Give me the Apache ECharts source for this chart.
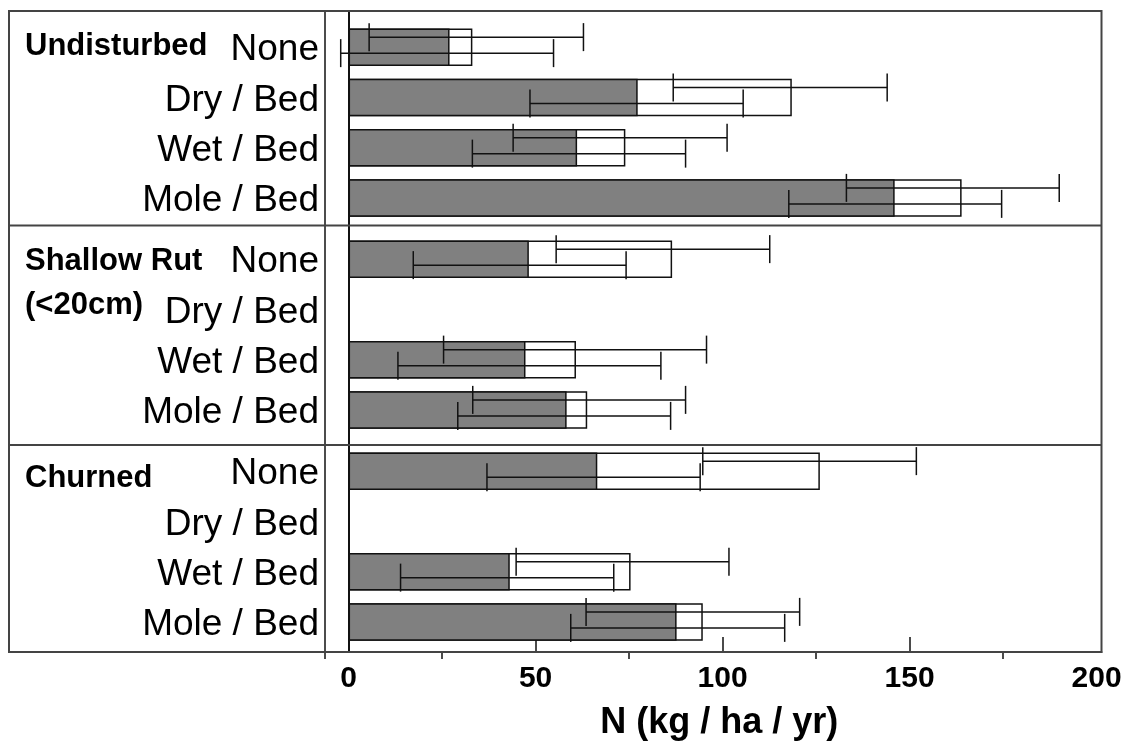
<!DOCTYPE html>
<html>
<head>
<meta charset="utf-8">
<script src="https://cdn.jsdelivr.net/npm/echarts@6/dist/echarts.min.js"></script>
<style>
  html, body { margin: 0; padding: 0; background: #fff; }
  #chart { width: 1128px; height: 746px; }
</style>
</head>
<body>
<div id="chart"></div>
<script>
// Site groups and drainage treatments (rows within each group)
const groupNames = ['Undisturbed', 'Shallow Rut\n(<20cm)', 'Churned'];
const treatments = ['None', 'Dry / Bed', 'Wet / Bed', 'Mole / Bed'];

// Filled (grey) bars, N in kg / ha / yr; null = not measured
const greyValues = [
  [27.0, 77.3, 61.1, 146.0],
  [48.2, null, 47.3, 58.3],
  [66.5, null, 43.1, 87.7]
];
// Open (white) bars
const whiteValues = [
  [33.1, 118.5, 74.0, 163.9],
  [86.5, null, 60.8, 63.8],
  [126.0, null, 75.4, 94.7]
];
// Error bar ends for the open bars
const whiteErrLow = [
  [5.5, 86.8, 44.0, 133.1],
  [55.5, null, 25.4, 33.2],
  [94.7, null, 44.8, 63.5]
];
const whiteErrHigh = [
  [62.8, 144.0, 101.2, 190.0],
  [112.6, null, 95.7, 90.1],
  [151.8, null, 101.7, 120.6]
];
// Error bar ends for the grey bars
const greyErrLow = [
  [-2.1, 48.5, 33.1, 117.7],
  [17.3, null, 13.2, 29.2],
  [37.0, null, 13.9, 59.4]
];
const greyErrHigh = [
  [54.8, 105.5, 90.1, 174.6],
  [74.2, null, 83.5, 86.1],
  [94.0, null, 70.9, 116.6]
];

// Axis ticks
const xTickLabels = [0, 50, 100, 150, 200];
const xInnerTicks = [50, 100, 150];
const xOuterTicks = [25, 75, 125, 175];
const xAxisTitle = 'N (kg / ha / yr)';

// ---- layout ----
const X_MIN = -6.3, X_MAX = 201.3;
const FRAME = { left: 9, top: 11, right: 1101.5, bottom: 652 };
const PLOT_LEFT = 325;
const groupTops = [22, 234, 446];
const GROUP_H = 201;
const dividers = [225.5, 445];
const groupLabelTops = [24, 239, 456];
const BAR_W = 37.5;
const WHITE_ERR_OFF = -10, GREY_ERR_OFF = 6, CAP = 14;
const FONT = '"Liberation Sans", Arial, Helvetica, sans-serif';
const LINE = '#111';
const FRAME_COLOR = '#444';

const grids = [], xAxes = [], yAxes = [], series = [];

groupTops.forEach(function (top, g) {
  grids.push({ left: PLOT_LEFT, top: top, width: FRAME.right - PLOT_LEFT, height: GROUP_H, containLabel: false });
  xAxes.push({ type: 'value', gridIndex: g, min: X_MIN, max: X_MAX, show: false });
  yAxes.push({
    type: 'category', gridIndex: g, data: treatments, inverse: true,
    axisLine: { show: false, onZero: false }, axisTick: { show: false }, splitLine: { show: false },
    // short line box anchored at the row centre nudges the text slightly below it
    axisLabel: { margin: 6, fontSize: 37, color: '#000', fontFamily: FONT, verticalAlign: 'top', lineHeight: 6 }
  });
  series.push({
    type: 'bar', xAxisIndex: g, yAxisIndex: g, data: whiteValues[g], barWidth: BAR_W, barGap: '-100%',
    itemStyle: { color: '#fff', borderColor: LINE, borderWidth: 1.5 }, z: 2, silent: true
  });
  series.push({
    type: 'bar', xAxisIndex: g, yAxisIndex: g, data: greyValues[g], barWidth: BAR_W, barGap: '-100%',
    itemStyle: { color: '#808080', borderColor: LINE, borderWidth: 1.5 }, z: 3, silent: true
  });
  const errData = [];
  treatments.forEach(function (t, i) {
    if (whiteValues[g][i] == null) return;
    errData.push([i, whiteErrLow[g][i], whiteErrHigh[g][i], greyErrLow[g][i], greyErrHigh[g][i]]);
  });
  series.push({
    type: 'custom', xAxisIndex: g, yAxisIndex: g, data: errData, z: 5, silent: true,
    encode: { y: 0, x: [1, 2, 3, 4] },
    renderItem: function (params, api) {
      const row = api.value(0);
      const children = [];
      [[1, 2, WHITE_ERR_OFF], [3, 4, GREY_ERR_OFF]].forEach(function (p) {
        const a = api.coord([api.value(p[0]), row]);
        const b = api.coord([api.value(p[1]), row]);
        const y = a[1] + p[2];
        const st = { stroke: LINE, lineWidth: 1.5 };
        children.push({ type: 'line', shape: { x1: a[0], y1: y, x2: b[0], y2: y }, style: st });
        children.push({ type: 'line', shape: { x1: a[0], y1: y - CAP, x2: a[0], y2: y + CAP }, style: st });
        children.push({ type: 'line', shape: { x1: b[0], y1: y - CAP, x2: b[0], y2: y + CAP }, style: st });
      });
      return { type: 'group', children: children };
    }
  });
});

// Full-height plot area carrying the value axis, the separator and the zero line
const fg = grids.length;
grids.push({ left: PLOT_LEFT, top: FRAME.top, width: FRAME.right - PLOT_LEFT, height: FRAME.bottom - FRAME.top, containLabel: false });
xAxes.push({
  type: 'value', gridIndex: fg, min: X_MIN, max: X_MAX, position: 'bottom',
  axisLine: { show: true, onZero: false, lineStyle: { color: FRAME_COLOR, width: 2 } },
  axisTick: { show: true, inside: true, length: 15, customValues: xInnerTicks, lineStyle: { color: LINE, width: 1.5 } },
  axisLabel: { customValues: xTickLabels, margin: 12, fontSize: 30, fontWeight: 'bold', color: '#000', fontFamily: FONT },
  splitLine: { show: false },
  name: xAxisTitle, nameLocation: 'middle', nameGap: 53,
  nameTextStyle: { fontSize: 36, fontWeight: 'bold', color: '#000', fontFamily: FONT, padding: [0, 0, 0, 12] }
});
xAxes.push({
  type: 'value', gridIndex: fg, min: X_MIN, max: X_MAX, position: 'bottom',
  axisLine: { show: false, onZero: false },
  axisTick: { show: true, inside: false, length: 7, customValues: [X_MIN].concat(xOuterTicks), lineStyle: { color: LINE, width: 1.5 } },
  axisLabel: { show: false }, splitLine: { show: false }
});
yAxes.push({
  type: 'value', gridIndex: fg, min: 0, max: 1,
  axisLine: { show: true, onZero: false, lineStyle: { color: LINE, width: 1.5 } },
  axisTick: { show: false }, axisLabel: { show: false }, splitLine: { show: false }
});
series.push({
  type: 'line', xAxisIndex: fg, yAxisIndex: fg, data: [], silent: true,
  markLine: {
    symbol: 'none', silent: true, label: { show: false },
    lineStyle: { color: LINE, width: 2, type: 'solid' },
    data: [{ xAxis: 0 }]
  }
});

// Outer box, group dividers and group names
const graphics = [{
  type: 'rect', silent: true, z: 10,
  shape: { x: FRAME.left, y: FRAME.top, width: FRAME.right - FRAME.left, height: FRAME.bottom - FRAME.top },
  style: { fill: 'none', stroke: FRAME_COLOR, lineWidth: 2 }
}];
dividers.forEach(function (y) {
  graphics.push({
    type: 'line', silent: true, z: 10,
    shape: { x1: FRAME.left, y1: y, x2: FRAME.right, y2: y },
    style: { stroke: FRAME_COLOR, lineWidth: 2 }
  });
});
groupNames.forEach(function (name, g) {
  graphics.push({
    type: 'text', silent: true, z: 10, left: 25, top: groupLabelTops[g],
    style: {
      text: name, fill: '#000', font: 'bold 31px ' + FONT,
      lineHeight: 44.3, verticalAlign: 'top', align: 'left'
    }
  });
});

const chart = echarts.init(document.getElementById('chart'), null, { renderer: 'canvas' });
chart.setOption({
  animation: false,
  backgroundColor: '#fff',
  grid: grids,
  xAxis: xAxes,
  yAxis: yAxes,
  series: series,
  graphic: graphics
});
</script>
</body>
</html>
